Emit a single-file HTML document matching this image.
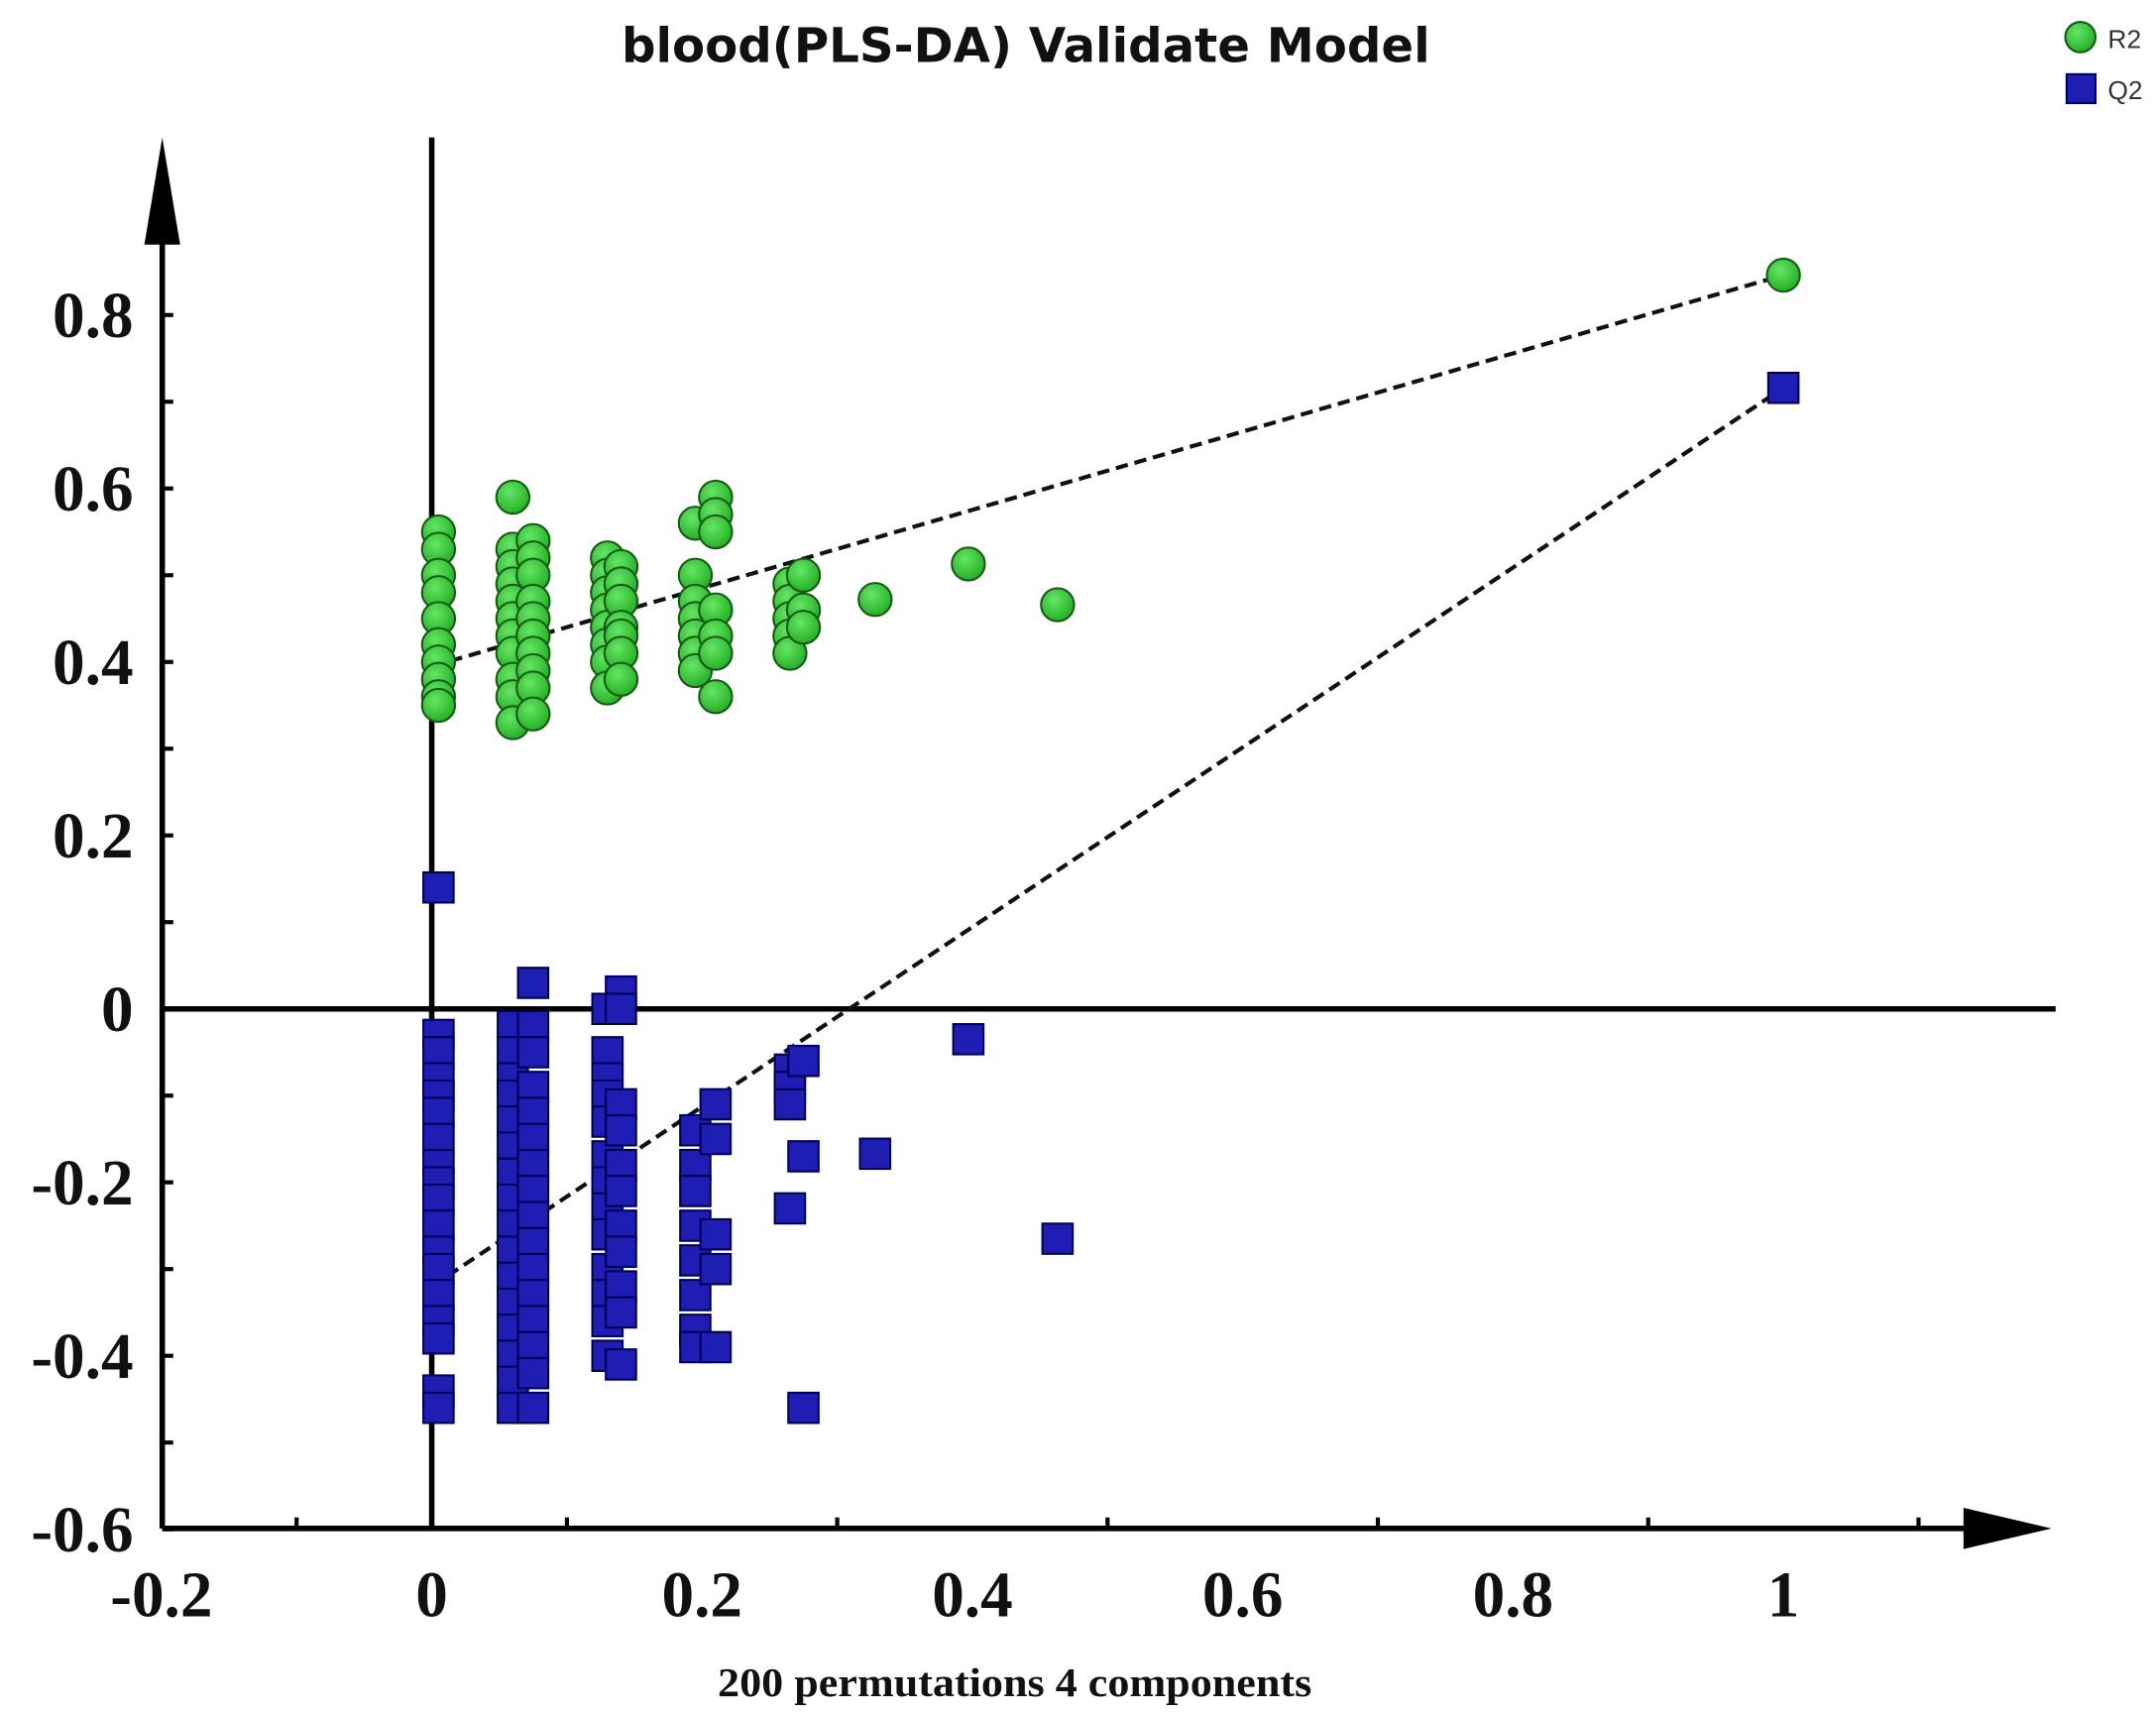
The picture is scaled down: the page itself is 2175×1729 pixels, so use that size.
<!DOCTYPE html>
<html><head><meta charset="utf-8"><style>
html,body{margin:0;padding:0;background:#fff;}
svg{display:block;}
</style></head><body>
<svg id="chart" width="2175" height="1729" viewBox="0 0 1568 1247" preserveAspectRatio="none" xmlns="http://www.w3.org/2000/svg">
<defs>
<radialGradient id="gg" cx="40%" cy="35%" r="65%"><stop offset="0" stop-color="#66e666"/><stop offset="1" stop-color="#25b025"/></radialGradient>
</defs>
<text x="452" y="45" textLength="588" lengthAdjust="spacingAndGlyphs" font-family="'DejaVu Sans','Liberation Sans',sans-serif" font-weight="bold" font-size="35" fill="#111">blood(PLS-DA) Validate Model</text>
<g>
<circle cx="1513" cy="27" r="11" fill="url(#gg)" stroke="#145a14" stroke-width="1.5"/>
<text x="1533" y="35" font-family="'Liberation Sans',sans-serif" font-size="19" fill="#333">R2</text>
<rect x="1503" y="54" width="21" height="21" fill="#1e1eb4" stroke="#000055" stroke-width="1.5"/>
<text x="1533" y="72" font-family="'Liberation Sans',sans-serif" font-size="19" fill="#333">Q2</text>
</g>
<g id="axes"></g>
<g id="lines"></g>
<g id="marks"></g>
<text x="738" y="1234" text-anchor="middle" textLength="432" lengthAdjust="spacingAndGlyphs" font-family="'Liberation Serif',serif" font-weight="bold" font-size="30" fill="#111">200 permutations 4 components</text>
</svg>
<script>
const xTicks=[-0.2,0,0.2,0.4,0.6,0.8,1];
const xTickLabels=["-0.2","0","0.2","0.4","0.6","0.8","1"];
const yTicks=[0.8,0.6,0.4,0.2,0,-0.2,-0.4,-0.6];
const yTickLabels=["0.8","0.6","0.4","0.2","0","-0.2","-0.4","-0.6"];
const r2X=[0.005,0.005,0.005,0.005,0.005,0.005,0.005,0.005,0.005,0.005,
0.06,0.06,0.06,0.06,0.06,0.06,0.06,0.06,0.06,0.06,0.06,
0.075,0.075,0.075,0.075,0.075,0.075,0.075,0.075,0.075,0.075,
0.13,0.13,0.13,0.13,0.13,0.13,0.13,0.13,
0.14,0.14,0.14,0.14,0.14,0.14,0.14,
0.195,0.195,0.195,0.195,0.195,0.195,0.195,
0.21,0.21,0.21,0.21,0.21,0.21,0.21,
0.265,0.265,0.265,0.265,0.265,
0.275,0.275,0.275,
0.328,0.397,0.463,1.0];
const r2Y=[0.55,0.53,0.50,0.48,0.45,0.42,0.40,0.38,0.36,0.35,
0.59,0.53,0.51,0.49,0.47,0.45,0.43,0.41,0.38,0.36,0.33,
0.54,0.52,0.50,0.47,0.45,0.43,0.41,0.39,0.37,0.34,
0.52,0.50,0.48,0.46,0.44,0.42,0.40,0.37,
0.51,0.49,0.47,0.44,0.43,0.41,0.38,
0.56,0.50,0.47,0.45,0.43,0.41,0.39,
0.59,0.57,0.55,0.46,0.43,0.41,0.36,
0.49,0.47,0.45,0.43,0.41,
0.50,0.46,0.44,
0.472,0.513,0.466,0.846];
const q2X=[0.005,0.005,0.005,0.005,0.005,0.005,0.005,0.005,0.005,0.005,0.005,0.005,0.005,0.005,0.005,0.005,0.005,0.005,
0.06,0.06,0.06,0.06,0.06,0.06,0.06,0.06,0.06,0.06,0.06,0.06,0.06,0.06,0.06,0.06,
0.075,0.075,0.075,0.075,0.075,0.075,0.075,0.075,0.075,0.075,0.075,0.075,0.075,0.075,0.075,0.075,
0.13,0.13,0.13,0.13,0.13,0.13,0.13,0.13,0.13,0.13,0.13,0.13,0.13,
0.14,0.14,0.14,0.14,0.14,0.14,0.14,0.14,0.14,0.14,0.14,
0.195,0.195,0.195,0.195,0.195,0.195,0.195,0.195,
0.21,0.21,0.21,0.21,0.21,
0.265,0.265,0.265,0.265,
0.275,0.275,0.275,
0.328,0.397,0.463,1.0];
const q2Y=[0.14,-0.03,-0.05,-0.08,-0.10,-0.12,-0.15,-0.18,-0.20,-0.22,-0.25,-0.28,-0.30,-0.33,-0.36,-0.38,-0.44,-0.46,
-0.02,-0.05,-0.08,-0.10,-0.13,-0.16,-0.19,-0.22,-0.25,-0.28,-0.31,-0.34,-0.37,-0.40,-0.43,-0.46,
0.03,-0.02,-0.05,-0.09,-0.12,-0.15,-0.18,-0.21,-0.24,-0.27,-0.30,-0.33,-0.36,-0.39,-0.42,-0.46,
0.0,-0.05,-0.08,-0.10,-0.13,-0.17,-0.20,-0.23,-0.26,-0.30,-0.33,-0.36,-0.40,
0.02,0.0,-0.11,-0.14,-0.18,-0.21,-0.25,-0.28,-0.32,-0.35,-0.41,
-0.14,-0.18,-0.21,-0.25,-0.29,-0.33,-0.37,-0.39,
-0.11,-0.15,-0.26,-0.30,-0.39,
-0.07,-0.09,-0.11,-0.23,
-0.06,-0.17,-0.46,
-0.167,-0.035,-0.265,0.716];
const r2Intercept=[0.395];
const q2Intercept=[-0.32];

const NS="http://www.w3.org/2000/svg";
const sx=v=>314+v*983;
const sy=v=>734-v*631;
function mk(tag,attrs,parent){const e=document.createElementNS(NS,tag);for(const k in attrs)e.setAttribute(k,attrs[k]);parent.appendChild(e);return e;}
const axes=document.getElementById('axes'),lines=document.getElementById('lines'),marks=document.getElementById('marks');
const x0=118,yb=1112;
let e;
e=mk('line',{x1:x0,y1:yb,x2:x0,y2:170,stroke:'#000','stroke-width':4},axes);


e=mk('polygon',{points:`${x0-13},178 ${x0+13},178 ${x0},100`,fill:'#000'},axes);


e=mk('line',{x1:x0,y1:yb,x2:1430,y2:yb,stroke:'#000','stroke-width':4},axes);


e=mk('polygon',{points:`1428,1097 1428,1127 1492,1112`,fill:'#000'},axes);


e=mk('line',{x1:sx(0),y1:100,x2:sx(0),y2:yb,stroke:'#000','stroke-width':4},axes);


e=mk('line',{x1:x0,y1:sy(0),x2:1495,y2:sy(0),stroke:'#000','stroke-width':4},axes);


for(let v=-0.6;v<=0.95;v+=0.1){const y=sy(v);e=mk('line',{x1:x0,y1:y,x2:x0+8,y2:y,stroke:'#000','stroke-width':3},axes);

}
for(let v=-0.1;v<=1.15;v+=0.2){const x=sx(v);e=mk('line',{x1:x,y1:yb,x2:x,y2:yb-8,stroke:'#000','stroke-width':3},axes);

}
yTicks.forEach((v,i)=>{e=mk('text',{x:97,y:sy(v)+16,'text-anchor':'end','font-family':"'Liberation Serif',serif",'font-weight':'bold','font-size':47,fill:'#111'},axes);e.textContent=yTickLabels[i];

});
xTicks.forEach((v,i)=>{e=mk('text',{x:sx(v),y:1176,'text-anchor':'middle','font-family':"'Liberation Serif',serif",'font-weight':'bold','font-size':47,fill:'#111'},axes);e.textContent=xTickLabels[i];

});
const r2n=r2X.length-1,q2n=q2X.length-1;
e=mk('line',{x1:sx(0),y1:sy(r2Intercept[0]),x2:sx(r2X[r2n]),y2:sy(r2Y[r2n]),stroke:'#111','stroke-width':3,'stroke-dasharray':'9,5'},lines);


e=mk('line',{x1:sx(0),y1:sy(q2Intercept[0]),x2:sx(q2X[q2n]),y2:sy(q2Y[q2n]),stroke:'#111','stroke-width':3,'stroke-dasharray':'9,5'},lines);


q2X.forEach((x,i)=>{e=mk('rect',{x:sx(x)-11,y:sy(q2Y[i])-11,width:22,height:22,fill:'#1e1eb4',stroke:'#000055','stroke-width':1.5},marks);

});
r2X.forEach((x,i)=>{e=mk('circle',{cx:sx(x),cy:sy(r2Y[i]),r:12,fill:'url(#gg)',stroke:'#145a14','stroke-width':1.5},marks);

});
</script>
</body></html>
